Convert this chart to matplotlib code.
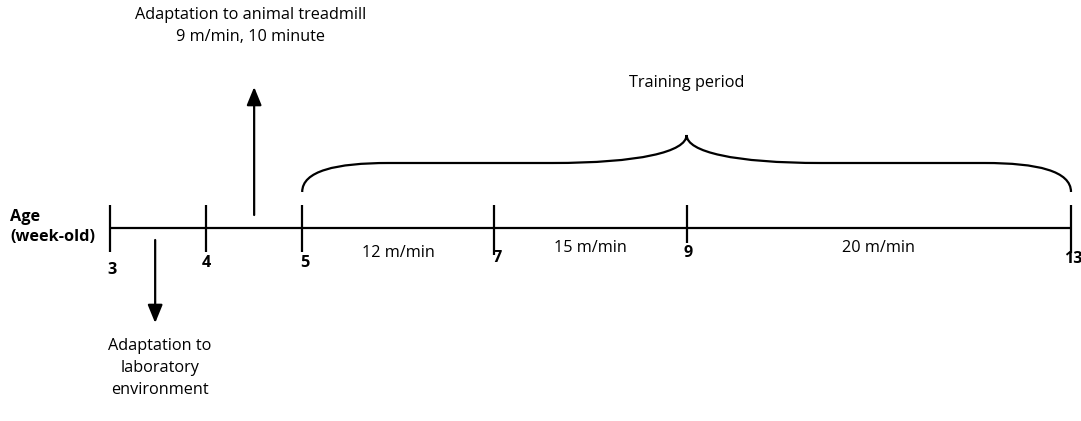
"""Timeline of the treadmill training protocol (age in weeks)."""

import matplotlib.pyplot as plt
from matplotlib.patches import PathPatch
from matplotlib.path import Path

plt.rcParams["font.family"] = ["Open Sans", "DejaVu Sans"]

# week marks on the age axis
weeks = [3, 4, 5, 7, 9, 13]
week_labels = ["3", "4", "5", "7", "9", "13"]

# training speeds, one per stage
stage_starts = [5, 7, 9]
stage_ends = [7, 9, 13]
speeds = ["12 m/min", "15 m/min", "20 m/min"]

# events marked with arrows
lab_week = 3.5
lab_text = "Adaptation to\nlaboratory\nenvironment"
treadmill_week = 4.5
treadmill_text = "Adaptation to animal treadmill\n9 m/min, 10 minute"
training_start, training_end = 5, 13
training_text = "Training period"

# layout (y is in pixel-like units, the age axis sits at 0)
PX_PER_WEEK = 96.1
tick_top = 23
tick_bottom = [-24, -24, -24, -27, -15, -25]
label_y = [-42, -35, -35, -30, -25, -31]
label_dx = [0.02, 0.0, 0.03, 0.03, 0.02, 0.0]
speed_y = [-25, -20, -20]
FS = 11.7
LW = 1.6
ARROW = "-|>,head_length=1.1,head_width=0.45"

fig = plt.figure(figsize=(10.81, 4.21), dpi=100)
ax = fig.add_axes([0, 0, 1, 1])
left = weeks[0] - 110 / PX_PER_WEEK
ax.set_xlim(left, left + 1081 / PX_PER_WEEK)
ax.set_ylim(228 - 421, 228)
ax.axis("off")

# age axis and week ticks
ax.plot([weeks[0], weeks[-1]], [0, 0], color="black", lw=LW, solid_capstyle="butt")
for i, (w, lab) in enumerate(zip(weeks, week_labels)):
    ax.plot([w, w], [tick_bottom[i], tick_top], color="black", lw=LW, solid_capstyle="butt")
    last = i == len(weeks) - 1
    ax.text(w + label_dx[i] - (0.07 if last else 0), label_y[i], lab,
            ha="left" if last else "center", va="center",
            fontsize=FS, fontweight="bold")

ax.text(left + 10 / PX_PER_WEEK, 1, "Age\n(week-old)", ha="left", va="center",
        fontsize=FS, fontweight="bold", linespacing=1.35)

# speeds per stage
for s, e, sp, sy in zip(stage_starts, stage_ends, speeds, speed_y):
    ax.text((s + e) / 2, sy, sp, ha="center", va="center", fontsize=FS)

# arrows
ax.annotate("", xy=(treadmill_week, 141), xytext=(treadmill_week, 13),
            arrowprops=dict(arrowstyle=ARROW, color="black", lw=LW,
                            shrinkA=0, shrinkB=0))
ax.text(treadmill_week - 0.04, 202, treadmill_text, ha="center", va="center",
        fontsize=FS, linespacing=1.5)

ax.annotate("", xy=(lab_week - 0.03, -95), xytext=(lab_week - 0.03, -12),
            arrowprops=dict(arrowstyle=ARROW, color="black", lw=LW,
                            shrinkA=0, shrinkB=0))
ax.text(lab_week + 0.02, -140, lab_text, ha="center", va="center",
        fontsize=FS, linespacing=1.5)

# curly brace over the training period, tip above week 9
mid = 9
end_y, flat_y, tip_y = 36, 65, 93
verts = [
    (training_start, end_y),
    (training_start, 57), (training_start + 0.35, flat_y), (training_start + 0.9, flat_y),
    (mid - 1.4, flat_y),
    (mid - 0.5, flat_y), (mid, 76), (mid, tip_y),
    (mid, 76), (mid + 0.5, flat_y), (mid + 1.4, flat_y),
    (training_end - 0.9, flat_y),
    (training_end - 0.35, flat_y), (training_end, 57), (training_end, end_y),
]
codes = ([Path.MOVETO] + [Path.CURVE4] * 3 + [Path.LINETO] + [Path.CURVE4] * 3
         + [Path.CURVE4] * 3 + [Path.LINETO] + [Path.CURVE4] * 3)
ax.add_patch(PathPatch(Path(verts, codes), fill=False, lw=LW, color="black"))
ax.text(mid, 145, training_text, ha="center", va="center", fontsize=FS)

fig.savefig("out.png", dpi=100)
